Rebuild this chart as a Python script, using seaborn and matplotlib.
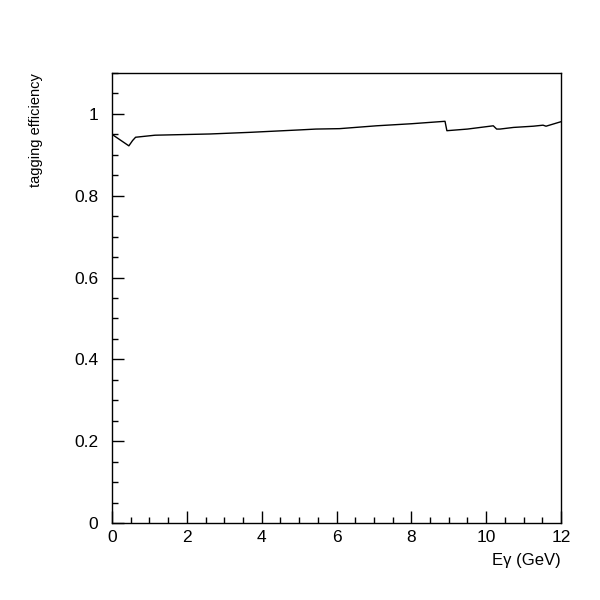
import matplotlib
matplotlib.use("Agg")
import matplotlib.pyplot as plt
import seaborn as sns
import pandas as pd
from matplotlib.ticker import MultipleLocator, FixedLocator

# Data
energy = [0.0, 0.45, 0.55, 0.63, 1.15, 2.62, 3.69, 5.03, 5.45, 6.08, 7.07, 8.0,
          8.6, 8.9, 8.95, 9.5, 10.19, 10.28, 10.37, 10.73, 11.26, 11.52, 11.6, 12.0]
efficiency = [0.950, 0.922, 0.935, 0.943, 0.948, 0.951, 0.955, 0.961, 0.963, 0.964,
              0.971, 0.976, 0.980, 0.982, 0.959, 0.963, 0.971, 0.963, 0.963, 0.967,
              0.970, 0.9725, 0.970, 0.981]

x_ticks = [0, 2, 4, 6, 8, 10, 12]
x_ticklabels = ["0", "2", "4", "6", "8", "10", "12"]
y_ticks = [0, 0.2, 0.4, 0.6, 0.8, 1.0]
y_ticklabels = ["0", "0.2", "0.4", "0.6", "0.8", "1"]

x_label = "E\u03b3 (GeV)"
y_label = "tagging efficiency"

sns.set_style("white")
plt.rcParams['font.family'] = ['Liberation Sans', 'DejaVu Sans']

df = pd.DataFrame({"E": energy, "eff": efficiency})

fig = plt.figure(figsize=(6, 6), dpi=100)
ax = fig.add_axes([0.1867, 0.1283, 0.7483, 0.75])
sns.lineplot(data=df, x="E", y="eff", ax=ax, color="black", linewidth=1.0,
             estimator=None, sort=False)

ax.set_xlim(0, 12)
ax.set_ylim(0, 1.1)
ax.set_xticks(x_ticks)
ax.set_xticklabels(x_ticklabels)
ax.set_yticks(y_ticks)
ax.set_yticklabels(y_ticklabels)
ax.xaxis.set_minor_locator(MultipleLocator(0.5))
ax.yaxis.set_minor_locator(MultipleLocator(0.05))

ax.tick_params(which="major", direction="in", length=8.5, width=1, color="black",
               labelsize=12.5, labelcolor="black")
ax.tick_params(which="minor", direction="in", length=4.3, width=1, color="black")
ax.tick_params(axis="x", which="both", bottom=True, top=False, pad=5)
ax.tick_params(axis="y", which="both", left=True, right=False, pad=10)

for s in ax.spines.values():
    s.set_color("black")
    s.set_linewidth(1.0)
    s.set_visible(True)

ax.set_xlabel(x_label, loc="right", fontsize=12, color="black", labelpad=6)
ax.set_ylabel(y_label, loc="top", fontsize=10.5, color="black", labelpad=22)

fig.savefig("out.png", dpi=100)
